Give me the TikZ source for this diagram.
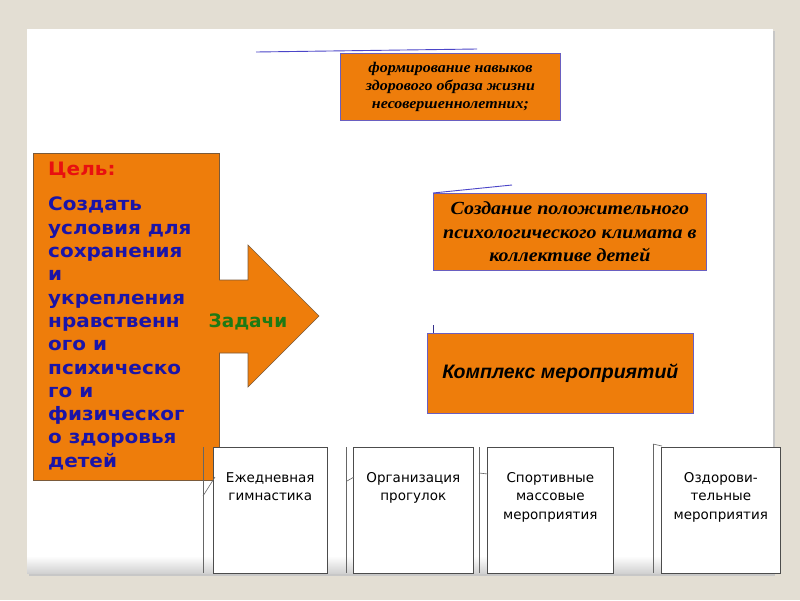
\documentclass[tikz,border=0pt]{standalone}
\usepackage{fontspec}
\setmainfont{Liberation Serif}
\newfontfamily\dvs{DejaVu Sans}
\newfontfamily\dvswide[FakeStretch=1.08]{DejaVu Sans}
\newfontfamily\serifwide[FakeStretch=1.08]{Liberation Serif}
\newfontfamily\lsans{Liberation Sans}
\definecolor{bg}{HTML}{E3DED3}
\definecolor{org}{HTML}{EE7D0B}
\definecolor{bordblue}{HTML}{6A5FC0}
\definecolor{bordbrown}{HTML}{7A5A3A}
\definecolor{txtblue}{HTML}{1A14A8}
\definecolor{txtred}{HTML}{E81010}
\definecolor{txtgreen}{HTML}{1E7A14}
\definecolor{lineblue}{HTML}{4B45C8}
\begin{document}
\begin{tikzpicture}[x=1pt,y=-1pt,
  taskbox/.style={draw=bordblue, line width=0.8pt, fill=org, inner sep=0pt, anchor=north west},
  evbox/.style={draw=black!70, line width=0.6pt, fill=white, inner sep=0pt, anchor=north west, minimum width=#1, minimum height=126},
  evtext/.style={anchor=north, align=center, inner sep=0pt, font=\dvs\fontsize{13.5}{18.5}\selectfont},
  tick/.style={draw=black!60, line width=0.6pt},
  blueline/.style={draw=lineblue, line width=0.9pt}]
\useasboundingbox (0,0) rectangle (800,600);
\fill[bg] (0,0) rectangle (800,600);
\fill[black!22] (29,31) rectangle (775,576);
\fill[white] (27,29) rectangle (773,573);
\shade[top color=white, bottom color=black!18] (27,556) rectangle (773,573);

% top task
\node[taskbox, minimum width=220, minimum height=67] (t1) at (340,53) {};
\node[align=center, inner sep=0pt, font=\serifwide\bfseries\itshape\fontsize{14.8}{18}\selectfont] (t1txt) at (t1.center) {формирование навыков\\здорового образа жизни\\несовершеннолетних;};
\coordinate (l1a) at (256,52);
\coordinate (l1b) at (477,49);
\draw[blueline] (l1a) -- (l1b);

% second task
\node[taskbox, minimum width=273, minimum height=77] (t2) at (433,193) {};
\node[align=center, inner sep=0pt, font=\serifwide\bfseries\itshape\fontsize{18.5}{23.5}\selectfont] (t2txt) at (t2.center) {Создание положительного\\психологического климата в\\коллективе детей};
\coordinate (l2b) at (512,185);
\draw[blueline] (t2.north west) -- (l2b);

% third task
\node[taskbox, minimum width=266, minimum height=80] (t3) at (427,333) {};
\node[inner sep=0pt, font=\lsans\bfseries\itshape\fontsize{19.5}{22}\selectfont] (t3txt) at (t3.center) {Комплекс мероприятий};
\coordinate (l3a) at (433,325);
\draw[tick, draw=lineblue!70!black] (l3a) -- (433,333);

% goal box
\node[draw=bordbrown, line width=0.6pt, fill=org, inner sep=0pt, anchor=north west, minimum width=186, minimum height=327] (goal) at (33,153) {};
\node[anchor=west, inner sep=0pt, text=txtred, font=\dvswide\bfseries\fontsize{18.5}{23.3}\selectfont] (goalhead) at (48,170) {Цель:};
\node[anchor=north west, align=left, inner sep=0pt, text=txtblue, font=\dvswide\bfseries\fontsize{18.5}{23.3}\selectfont] (goaltxt) at (48,197) {Создать\\условия для\\сохранения\\и\\укрепления\\нравственн\\ого и\\психическо\\го и\\физическог\\о здоровья\\детей};

% arrow
\draw[draw=bordbrown, line width=0.6pt, fill=org] (219,280) -- (248,280) -- (248,245) -- (319,316) -- (248,387) -- (248,353) -- (219,353);
\node[inner sep=0pt, text=txtgreen, font=\dvs\bfseries\fontsize{18.5}{20}\selectfont] (tasks) at (248,322) {Задачи};

% event boxes
\node[evbox=114] (e1) at (213,447) {};
\node[evbox=120] (e2) at (353,447) {};
\node[evbox=126] (e3) at (487,447) {};
\node[evbox=119] (e4) at (661,447) {};
\node[evtext] (e1t) at ([yshift=-25]e1.north) {Ежедневная\\гимнастика};
\node[evtext] (e2t) at ([yshift=-25]e2.north) {Организация\\прогулок};
\node[evtext] (e3t) at ([yshift=-25]e3.north) {Спортивные\\массовые\\мероприятия};
\node[evtext] (e4t) at ([yshift=-25]e4.north) {Оздорови-\\тельные\\мероприятия};

% connector stubs
\coordinate (v1a) at (203,447); \coordinate (v1b) at (203,573);
\draw[tick] (v1a) -- (v1b);
\draw[tick] (203,496) -- (215,477);
\coordinate (v2a) at (346,447); \coordinate (v2b) at (346,573);
\draw[tick] (v2a) -- (v2b);
\draw[tick] (347,481) -- (354,477);
\coordinate (v3a) at (479,447); \coordinate (v3b) at (479,573);
\draw[tick] (v3a) -- (v3b);
\draw[tick] (479,473) -- (488,474);
\coordinate (v4a) at (653,444); \coordinate (v4b) at (653,573);
\draw[tick] (v4a) -- (v4b);
\draw[tick] (653,444) -- (662,446);
\end{tikzpicture}
\end{document}
